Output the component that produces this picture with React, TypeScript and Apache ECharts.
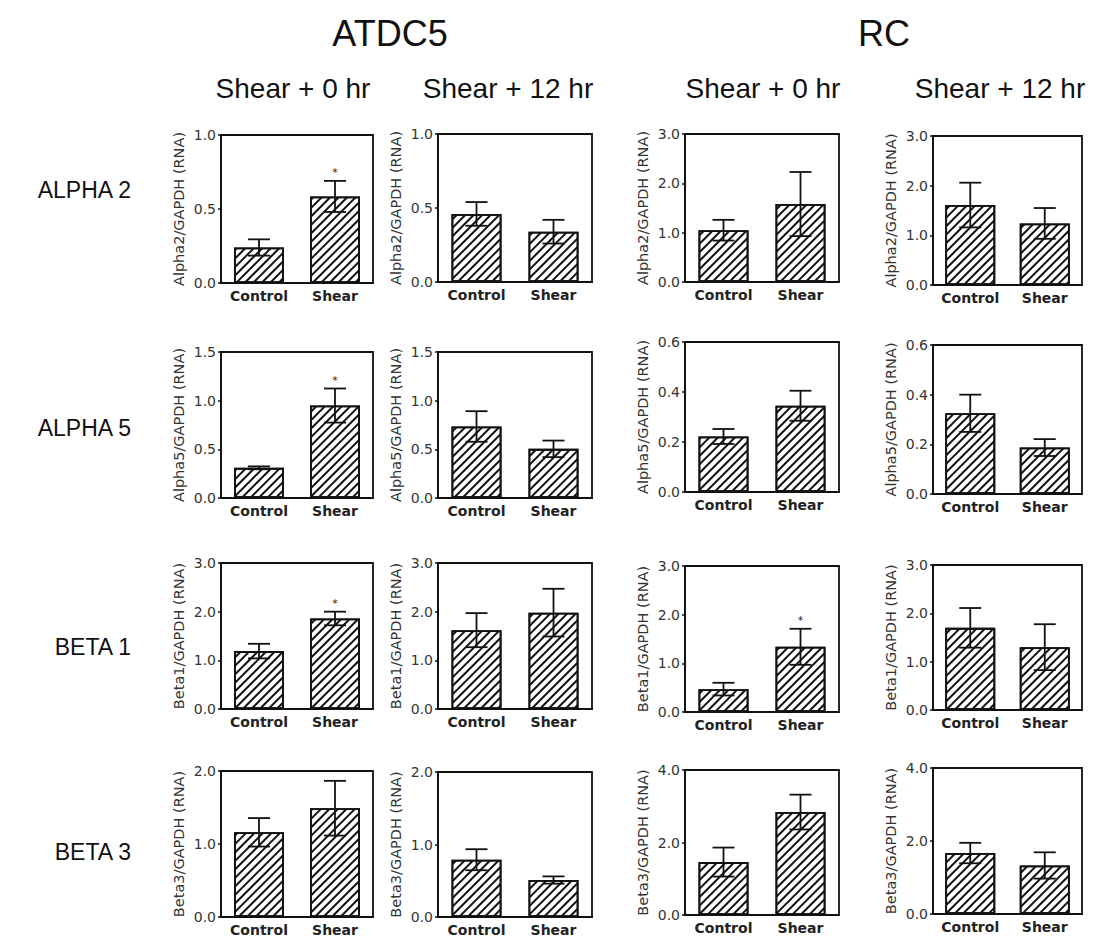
import React, { useEffect, useRef } from "react";
import * as echarts from "echarts";

// ---------- data ----------
const categories = ["Control", "Shear"];
const cellTitles = ["ATDC5", "RC"];
const timeTitles = ["Shear + 0 hr", "Shear + 12 hr", "Shear + 0 hr", "Shear + 12 hr"];
const rowLabels = ["ALPHA 2", "ALPHA 5", "BETA 1", "BETA 3"];
const yNames = ["Alpha2/GAPDH (RNA)", "Alpha5/GAPDH (RNA)", "Beta1/GAPDH (RNA)", "Beta3/GAPDH (RNA)"];

// per row: [ATDC5 0hr, ATDC5 12hr, RC 0hr, RC 12hr], each [Control, Shear]
const alpha2Mean = [[0.24, 0.585], [0.46, 0.34], [1.05, 1.58], [1.61, 1.24]];
const alpha2Err = [[0.055, 0.105], [0.08, 0.08], [0.21, 0.65], [0.45, 0.31]];
const alpha5Mean = [[0.31, 0.95], [0.735, 0.505], [0.222, 0.345], [0.325, 0.187]];
const alpha5Err = [[0.015, 0.175], [0.157, 0.085], [0.03, 0.06], [0.075, 0.034]];
const beta1Mean = [[1.19, 1.86], [1.62, 1.98], [0.47, 1.34], [1.7, 1.3]];
const beta1Err = [[0.15, 0.14], [0.35, 0.49], [0.13, 0.37], [0.41, 0.475]];
const beta3Mean = [[1.16, 1.49], [0.79, 0.51], [1.46, 2.84], [1.67, 1.33]];
const beta3Err = [[0.195, 0.375], [0.145, 0.05], [0.4, 0.48], [0.28, 0.36]];

const alpha2Sig = [[false, true], [false, false], [false, false], [false, false]];
const alpha5Sig = [[false, true], [false, false], [false, false], [false, false]];
const beta1Sig = [[false, true], [false, false], [false, true], [false, false]];
const beta3Sig = [[false, false], [false, false], [false, false], [false, false]];

// y-axis max and tick interval per row / column
const yMax = [[1, 1, 3, 3], [1.5, 1.5, 0.6, 0.6], [3, 3, 3, 3], [2, 2, 4, 4]];
const yInterval = [[0.5, 0.5, 1, 1], [0.5, 0.5, 0.2, 0.2], [1, 1, 1, 1], [1, 1, 2, 2]];

const means = [alpha2Mean, alpha5Mean, beta1Mean, beta3Mean];
const errs = [alpha2Err, alpha5Err, beta1Err, beta3Err];
const sigs = [alpha2Sig, alpha5Sig, beta1Sig, beta3Sig];

// ---------- layout ----------
const colLeft = [221, 438, 685, 933];
const colRight = [373, 592, 839, 1082];
const panelTop = [
  [135, 134, 134, 136],
  [352, 352, 342, 345],
  [563, 563, 566, 565],
  [771, 772, 770, 768],
];
const panelBottom = [
  [283, 282, 282, 285],
  [498, 498, 492, 494],
  [709, 709, 712, 710],
  [917, 917, 915, 914],
];

const FONT = "'DejaVu Sans', sans-serif";
const TITLE_FONT = "'Liberation Sans', Arial, sans-serif";

export default function App() {
  const ref = useRef<HTMLDivElement>(null);

  useEffect(() => {
    if (!ref.current) return;
    const chart = echarts.init(ref.current, undefined, { renderer: "svg" });

    const grid: any[] = [];
    const xAxis: any[] = [];
    const yAxis: any[] = [];
    const series: any[] = [];

    for (let r = 0; r < 4; r++) {
      for (let c = 0; c < 4; c++) {
        const i = r * 4 + c;
        grid.push({
          left: colLeft[c],
          top: panelTop[r][c],
          width: colRight[c] - colLeft[c],
          height: panelBottom[r][c] - panelTop[r][c],
          show: true,
          borderColor: "#111",
          borderWidth: 1.8,
          backgroundColor: "transparent",
          containLabel: false,
        });
        xAxis.push({
          type: "category",
          gridIndex: i,
          data: categories,
          axisLine: { show: true, lineStyle: { color: "#111", width: 1.8 } },
          axisTick: { show: false },
          axisLabel: {
            interval: 0,
            color: "#222",
            fontFamily: FONT,
            fontSize: 14,
            fontWeight: "bold",
            margin: 6,
          },
        });
        yAxis.push({
          type: "value",
          gridIndex: i,
          min: 0,
          max: yMax[r][c],
          interval: yInterval[r][c],
          name: yNames[r],
          nameLocation: "middle",
          nameGap: 35,
          nameTextStyle: { color: "#333", fontFamily: FONT, fontSize: 14.5 },
          splitLine: { show: false },
          axisLine: { show: true, lineStyle: { color: "#111", width: 1.8 } },
          axisTick: { show: true, length: 3, lineStyle: { color: "#111", width: 1.5 } },
          axisLabel: {
            color: "#333",
            fontFamily: FONT,
            fontSize: 14,
            margin: 5,
            formatter: (v: number) => v.toFixed(1),
          },
        });
        series.push({
          type: "bar",
          xAxisIndex: i,
          yAxisIndex: i,
          data: means[r][c],
          barWidth: 50,
          itemStyle: {
            color: "#fff",
            borderColor: "#111",
            borderWidth: 1.8,
            decal: {
              symbol: "rect",
              symbolSize: 1,
              color: "#111",
              dashArrayX: [1, 0],
              dashArrayY: [2, 3.5],
              rotation: -Math.PI / 4,
            },
          },
          z: 2,
        });
        series.push({
          type: "custom",
          xAxisIndex: i,
          yAxisIndex: i,
          z: 5,
          encode: { x: 0, y: 1 },
          data: means[r][c].map((m, k) => [k, m, errs[r][c][k], sigs[r][c][k] ? 1 : 0]),
          renderItem: (params: any, api: any) => {
            const x = api.value(0);
            const m = api.value(1);
            const e = api.value(2);
            const s = api.value(3);
            const top = api.coord([x, m + e]);
            const bot = api.coord([x, m - e]);
            const hw = 11;
            const style = { stroke: "#111", lineWidth: 1.8 };
            const children: any[] = [
              { type: "line", shape: { x1: top[0], y1: top[1], x2: bot[0], y2: bot[1] }, style },
              { type: "line", shape: { x1: top[0] - hw, y1: top[1], x2: top[0] + hw, y2: top[1] }, style },
              { type: "line", shape: { x1: bot[0] - hw, y1: bot[1], x2: bot[0] + hw, y2: bot[1] }, style },
            ];
            if (s) {
              children.push({
                type: "text",
                style: {
                  text: "*",
                  x: top[0],
                  y: top[1] - 3,
                  align: "center",
                  verticalAlign: "bottom",
                  fontSize: 11,
                  fontFamily: FONT,
                  fill: "#222",
                },
              });
            }
            return { type: "group", children };
          },
        });
      }
    }

    const graphic: any[] = [];
    const cellCenters = [390, 884];
    cellTitles.forEach((t, k) => {
      graphic.push({
        type: "text",
        x: cellCenters[k],
        y: 33,
        style: {
          text: t,
          align: "center",
          verticalAlign: "middle",
          fontSize: 36,
          fontFamily: TITLE_FONT,
          fill: "#111",
        },
      });
    });
    const timeCenters = [293, 508, 763, 1000];
    timeTitles.forEach((t, k) => {
      graphic.push({
        type: "text",
        x: timeCenters[k],
        y: 88,
        style: {
          text: t,
          align: "center",
          verticalAlign: "middle",
          fontSize: 28,
          fontFamily: TITLE_FONT,
          fill: "#111",
        },
      });
    });
    const rowCenters = [190, 428, 647, 852];
    rowLabels.forEach((t, k) => {
      graphic.push({
        type: "text",
        x: 131,
        y: rowCenters[k],
        style: {
          text: t,
          align: "right",
          verticalAlign: "middle",
          fontSize: 23,
          fontFamily: TITLE_FONT,
          fill: "#111",
        },
      });
    });

    chart.setOption({
      animation: false,
      backgroundColor: "#fff",
      grid,
      xAxis,
      yAxis,
      series,
      graphic,
    });

    return () => chart.dispose();
  }, []);

  return (
    <div
      ref={ref}
      style={{ position: "absolute", left: 0, top: 0, width: 1094, height: 943 }}
    />
  );
}
